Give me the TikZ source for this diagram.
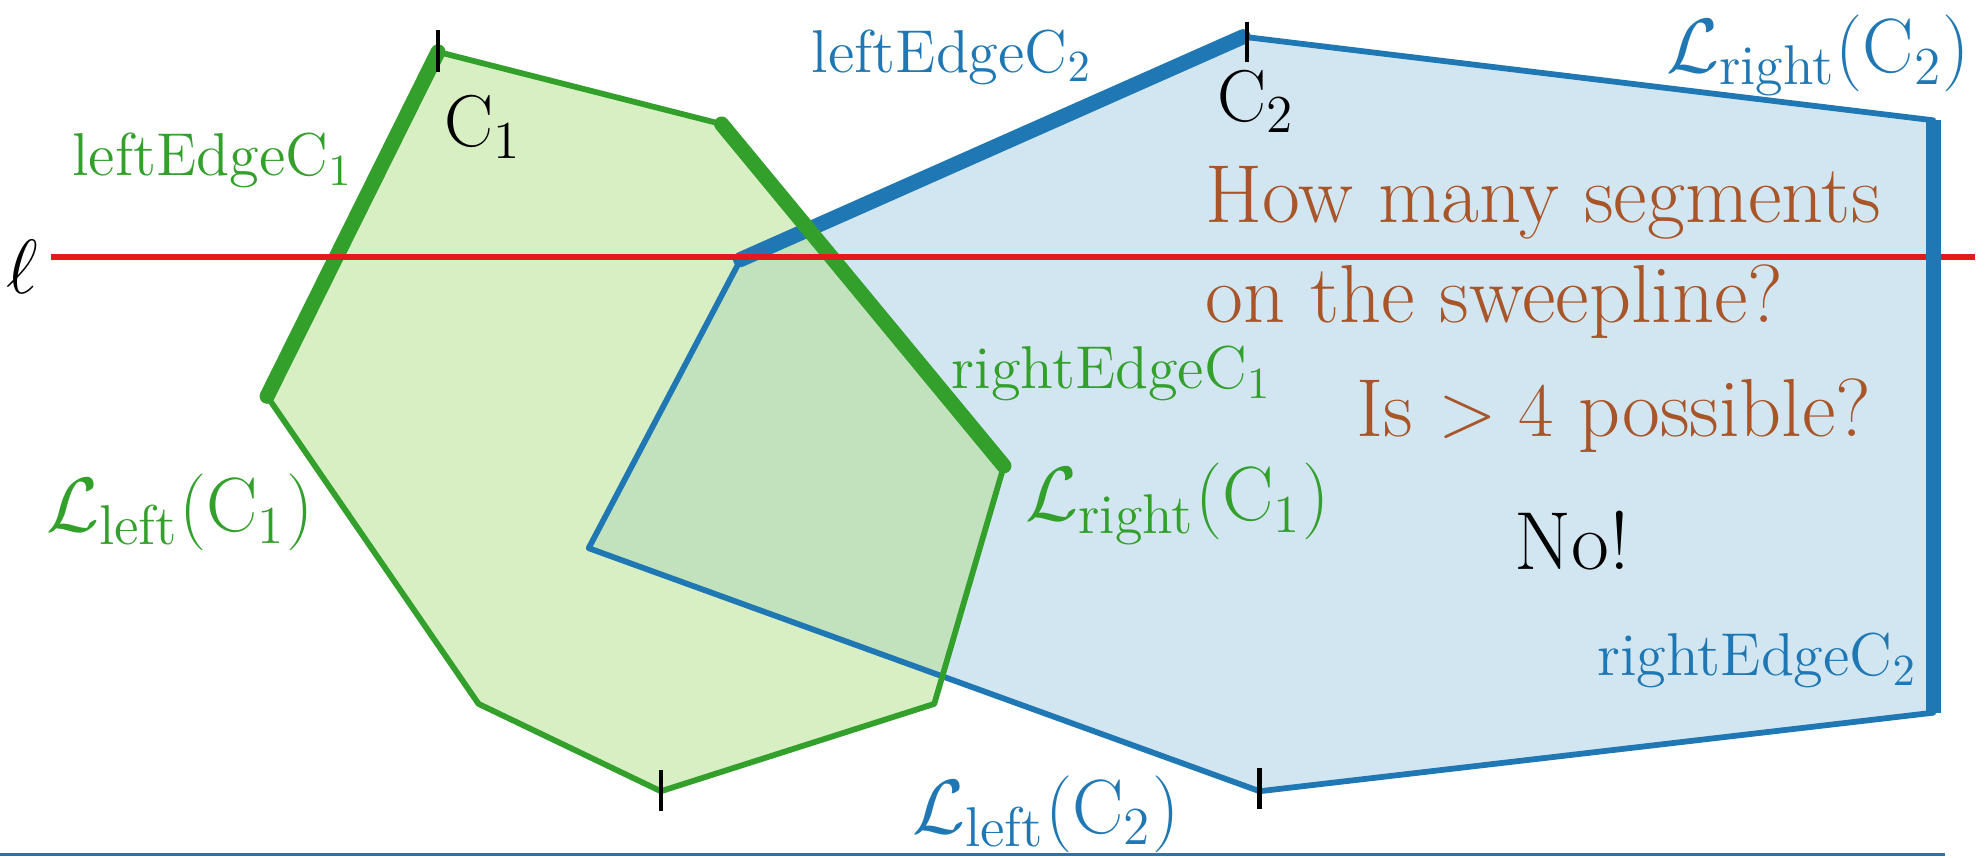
\documentclass[tikz,border=0pt]{standalone}
\usepackage{amsmath}
\usepackage{tikz}
\definecolor{hullgreen}{HTML}{33A02C}
\definecolor{hullgreenfill}{HTML}{B2DF8A}
\definecolor{hullblue}{HTML}{1F78B4}
\definecolor{hullbluefill}{HTML}{A6CEE3}
\definecolor{sweepred}{HTML}{E31A1C}
\definecolor{askbrown}{HTML}{A8552A}

\begin{document}
\begin{tikzpicture}[x=0.1mm,y=-0.1mm,
  hulledge/.style={line width=1.3pt,line join=round},
  thickedge/.style={line width=3.4pt,line cap=round},
  tickmark/.style={black,line width=1pt},
  edgelbl/.style={font=\fontsize{13.6}{16}\selectfont},
  hulllbl/.style={font=\fontsize{18}{21}\selectfont},
  asklbl/.style={font=\fontsize{18.5}{22}\selectfont,text=askbrown}]
  \useasboundingbox (0,0) rectangle (1568,677);

  % hull corners
  \coordinate (c2a) at (585,205);
  \coordinate (c2b) at (982,29);
  \coordinate (c2c) at (1527,95);
  \coordinate (c2d) at (1527,563);
  \coordinate (c2e) at (995,625);
  \coordinate (c2f) at (465,433);
  \coordinate (c1a) at (346,41);
  \coordinate (c1b) at (570,98);
  \coordinate (c1c) at (793,368);
  \coordinate (c1d) at (738,556);
  \coordinate (c1e) at (522,625);
  \coordinate (c1f) at (378,556);
  \coordinate (c1g) at (211,313);

  % fills first, then outlines
  \fill[hullbluefill,opacity=0.5] (c2a) -- (c2b) -- (c2c) -- (c2d) -- (c2e) -- (c2f) -- cycle;
  \fill[hullgreenfill,opacity=0.5] (c1a) -- (c1b) -- (c1c) -- (c1d) -- (c1e) -- (c1f) -- (c1g) -- cycle;
  \draw[hulledge,hullblue] (c2a) -- (c2b) -- (c2c) -- (c2d) -- (c2e) -- (c2f) -- cycle;
  \draw[thickedge,hullblue] (c2a) -- (c2b);
  \draw[hulledge,hullgreen] (c1a) -- (c1b) -- (c1c) -- (c1d) -- (c1e) -- (c1f) -- (c1g) -- cycle;
  \draw[thickedge,hullgreen] (c1g) -- (c1a);
  \draw[thickedge,hullgreen] (c1b) -- (c1c);

  % sweepline
  \coordinate (sw0) at (40,203);
  \coordinate (sw1) at (1560,203);
  \draw[sweepred,line width=1.4pt] (sw0) -- (sw1);
  \draw[thickedge,hullblue,line cap=butt] (c2c) -- (c2d);
  \node (ell) at (18,211) {\fontsize{17}{20}\selectfont$\ell$};

  % top and bottom ticks
  \draw[tickmark] (c1a) ++(0,-17) -- ++(0,33);
  \draw[tickmark] (c1e) ++(0,-17) -- ++(0,33);
  \draw[tickmark] (c2b) ++(3,-12) -- ++(0,32);
  \draw[tickmark] (c2e) ++(0,-18) -- ++(0,32);

  \coordinate (rule0) at (0,675);
  \coordinate (rule1) at (1536,675);
  \draw[hullblue,line width=0.5pt] (rule0) -- (rule1);

  % labels
  \node[edgelbl,text=hullgreen] (le1) at (168,127) {leftEdgeC$_1$};
  \node[edgelbl,text=hullgreen] (re1) at (878,295) {rightEdgeC$_1$};
  \node[edgelbl,text=hullblue] (le2) at (752,45) {leftEdgeC$_2$};
  \node[edgelbl,text=hullblue] (re2) at (1388,522) {rightEdgeC$_2$};
  \node[font=\fontsize{16.5}{19}\selectfont] (n1) at (382,100) {C$_1$};
  \node[font=\fontsize{16.5}{19}\selectfont] (n2) at (992,80) {C$_2$};
  \node[hulllbl,text=hullblue] (lr2) at (1436,44) {$\mathcal{L}_{\text{right}}(\mathrm{C}_2)$};
  \node[hulllbl,text=hullgreen] (lr1) at (930,398) {$\mathcal{L}_{\text{right}}(\mathrm{C}_1)$};
  \node[hulllbl,text=hullgreen] (ll1) at (142,405) {$\mathcal{L}_{\text{left}}(\mathrm{C}_1)$};
  \node[hulllbl,text=hullblue] (ll2) at (826,643) {$\mathcal{L}_{\text{left}}(\mathrm{C}_2)$};

  \node[asklbl,anchor=base west] (q1) at (940,176) {How many segments};
  \node[asklbl,anchor=base west] (q2) at (940,255) {on the sweepline?};
  \node[asklbl,anchor=base] (q3) at (1275,345) {Is $>4$ possible?};
  \node[asklbl,text=black,anchor=base] (ans) at (1242,450) {No!};
\end{tikzpicture}
\end{document}
